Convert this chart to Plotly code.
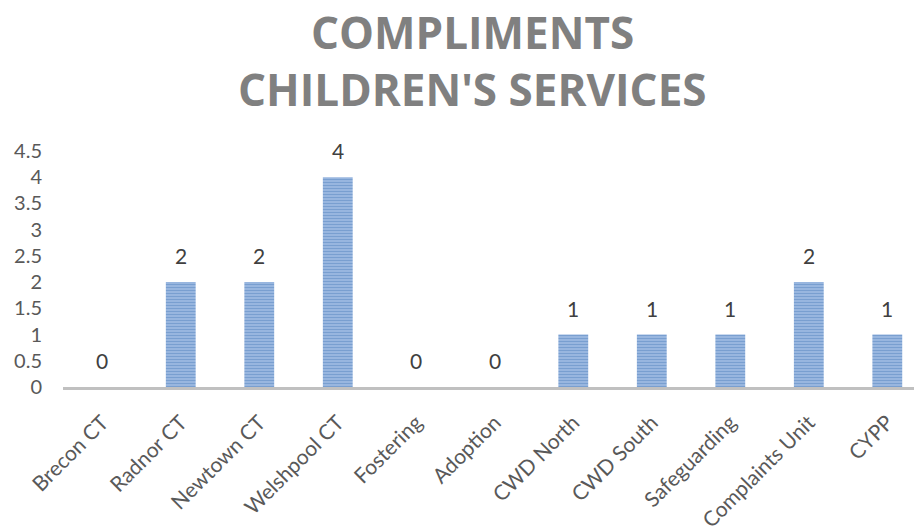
import plotly.graph_objects as go

# Compliments received per children's services team
teams = ["Brecon CT", "Radnor CT", "Newtown CT", "Welshpool CT", "Fostering",
         "Adoption", "CWD North", "CWD South", "Safeguarding",
         "Complaints Unit", "CYPP"]
compliments = [0, 2, 2, 4, 0, 0, 1, 1, 1, 2, 1]
y_ticks = [0, 0.5, 1, 1.5, 2, 2.5, 3, 3.5, 4, 4.5]
title_lines = ["COMPLIMENTS", "CHILDREN'S SERVICES"]

text_grey = "#595959"

fig = go.Figure()
fig.add_trace(go.Bar(
    x=list(range(len(teams))),
    y=compliments,
    width=0.38,
    marker=dict(
        color="#9dbbe0",
        line=dict(width=0),
        pattern=dict(shape="-", fgcolor="#4677b8", bgcolor="#acc6e8",
                     size=3, solidity=0.6, fillmode="overlay"),
    ),
    hoverinfo="skip",
))

# value labels above each bar
for i, v in enumerate(compliments):
    fig.add_annotation(x=i, y=v, text=str(v), showarrow=False,
                       yanchor="bottom", yshift=12,
                       font=dict(family="Lato", size=21, color="#404040"))

# two-line chart heading
for line, ypx in zip(title_lines, [29, 88]):
    fig.add_annotation(text=line, xref="paper", yref="paper",
                       x=(472 - 63) / 851, xanchor="center",
                       y=1 + (151 - ypx) / 241, yanchor="middle",
                       showarrow=False,
                       font=dict(family="Open Sans", size=44,
                                 color="#808080", weight="bold"))

fig.update_layout(
    width=914, height=532,
    margin=dict(l=63, r=0, t=151, b=140),
    paper_bgcolor="white", plot_bgcolor="white",
    showlegend=False,
    font=dict(family="Lato", color=text_grey),
)
fig.update_xaxes(
    tickmode="array", tickvals=list(range(len(teams))), ticktext=teams,
    tickangle=-45, range=[-0.5, 10.34],
    showline=True, linecolor="#c0c0c0", linewidth=3,
    showgrid=False, ticks="", zeroline=False,
    ticklabelstandoff=12,
    tickfont=dict(family="Lato", size=21, color=text_grey),
)
fig.update_yaxes(
    range=[0, 4.5], tickmode="array", tickvals=y_ticks,
    ticktext=[f"{t:g}" for t in y_ticks],
    showgrid=False, showline=False, zeroline=False, ticks="",
    ticklabelstandoff=20,
    tickfont=dict(family="Lato", size=20, color=text_grey),
)

fig.write_html("out.html")
